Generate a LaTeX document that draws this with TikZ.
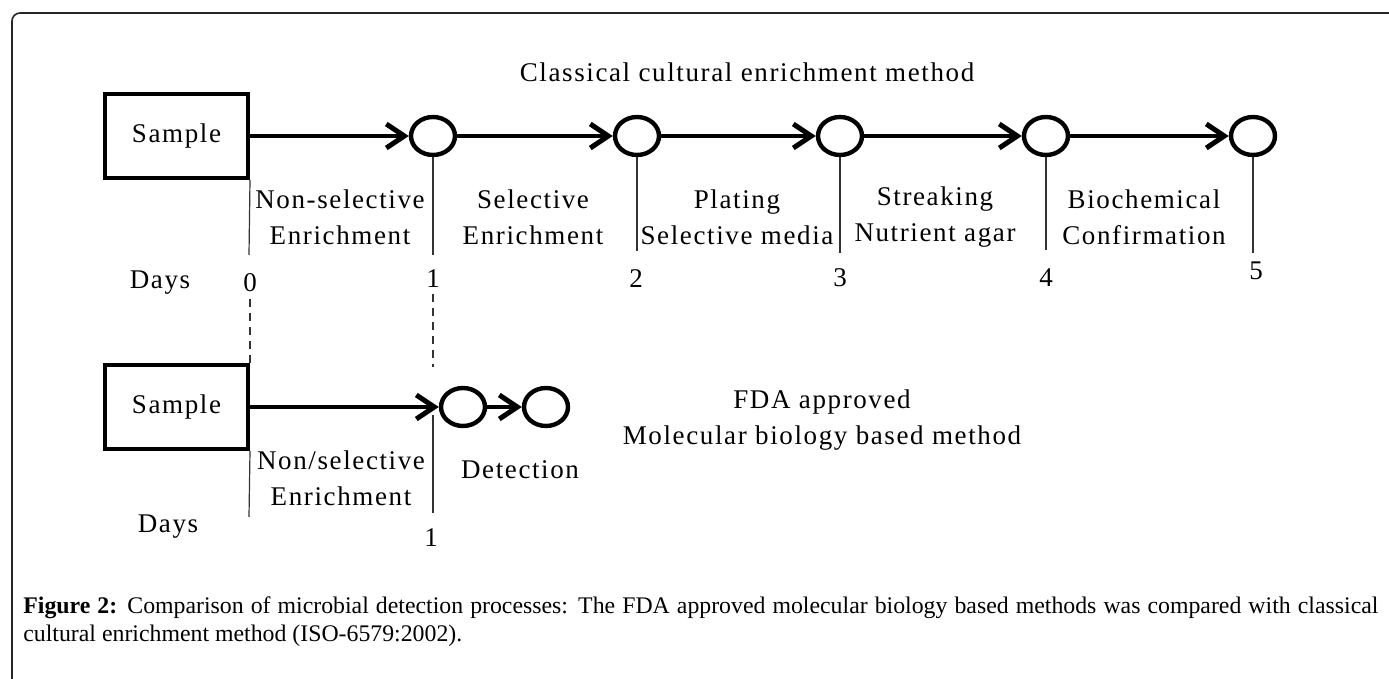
\documentclass[tikz,border=0pt]{standalone}
\usepackage{fontspec}
\setmainfont{Liberation Serif}
\newfontfamily\diagfont[LetterSpace=6]{Liberation Serif}
\usetikzlibrary{arrows.meta,shapes.geometric}
\begin{document}
\begin{tikzpicture}[x=0.5pt,y=-0.5pt,
  lbl/.style={font=\diagfont\fontsize{13.5}{18}\selectfont, align=center, inner sep=0pt},
  box/.style={draw, line width=2pt, minimum width=71.5pt, minimum height=42pt, inner sep=0pt, lbl},
  stage/.style={draw, ellipse, line width=2.2pt, minimum width=22pt, minimum height=19pt, inner sep=0pt},
  flow/.style={line width=2pt, -{Straight Barb[length=9pt,width=12pt,line width=2.5pt]}},
  tick/.style={line width=0.6pt, draw=black!80},
  guide/.style={line width=0.6pt, draw=black!80, dash pattern=on 4pt off 3pt},
  captext/.style={font=\fontsize{11.9}{14}\selectfont, inner sep=0pt, anchor=base west},
]
\useasboundingbox (0,0) rectangle (1389,679);
% frame
\draw[line width=0.8pt, draw=black!85, rounded corners=4pt] (12,679) -- (12,13) -- (1389,13);

% ---- classical method ----
\node[lbl] (title) at (747,72) {Classical cultural enrichment method};
\node[box] (s1) at (176.5,136) {Sample};
\node[stage] (c1) at (433,136) {};
\node[stage] (c2) at (637,136) {};
\node[stage] (c3) at (840,136) {};
\node[stage] (c4) at (1046,136) {};
\node[stage] (c5) at (1253,136) {};
\draw[flow] (s1) -- (c1);
\draw[flow] (c1) -- (c2);
\draw[flow] (c2) -- (c3);
\draw[flow] (c3) -- (c4);
\draw[flow] (c4) -- (c5);

\coordinate (t0) at (249,255);
\coordinate (t1) at (433,255);
\coordinate (t2) at (637,251);
\coordinate (t3) at (840,253);
\coordinate (t4) at (1046,250);
\coordinate (t5) at (1253,253);
\draw[tick] (s1.south east) -- (t0);
\draw[tick] (c1.south) -- (t1);
\draw[tick] (c2.south) -- (t2);
\draw[tick] (c3.south) -- (t3);
\draw[tick] (c4.south) -- (t4);
\draw[tick] (c5.south) -- (t5);

\node[lbl] (l1) at (340,217) {Non-selective\\Enrichment};
\node[lbl] (l2) at (533,217) {Selective\\Enrichment};
\node[lbl] (l3) at (737,217) {Plating\\Selective media};
\node[lbl] (l4) at (935,217) {Streaking\\Nutrient agar};
\node[lbl] (l5) at (1144,217) {Biochemical\\Confirmation};

\node[lbl] (days1) at (160,283) {Days};
\node[lbl] (n0) at (250,283) {0};
\node[lbl] (n1) at (433,279) {1};
\node[lbl] (n2) at (636,279) {2};
\node[lbl] (n3) at (840,278) {3};
\node[lbl] (n4) at (1046,278) {4};
\node[lbl] (n5) at (1256,271) {5};

% ---- molecular method ----
\node[box] (s2) at (176.5,407) {Sample};
\node[stage] (ca) at (463,407) {};
\node[stage] (cb) at (546,407) {};
\draw[flow] (s2) -- (ca);
\draw[flow] (ca) -- (cb);

\coordinate (g1) at (433,367);
\draw[guide] ([yshift=-3pt]n0.south) -- (s2.north east);
\draw[guide] ([yshift=-3pt]n1.south) -- (g1);

\coordinate (u0) at (249,517);
\coordinate (a0) at (433,415);
\coordinate (a1) at (433,513);
\draw[tick] (s2.south east) -- (u0);
\draw[tick] (a0) -- (a1);

\node[lbl] (m1) at (341,478) {Non/selective\\Enrichment};
\node[lbl] (m2) at (520,470) {Detection};
\node[lbl] (m3) at (822,420) {FDA approved\\Molecular biology based method};
\node[lbl] (days2) at (168,527) {Days};
\node[lbl] (k1) at (431,538) {1};

% ---- caption ----
\node[captext] (cap1) at (23,613) {\makebox[677.5pt][s]{\textbf{Figure 2:} Comparison of microbial detection processes: The FDA approved molecular biology based methods was compared with classical}};
\node[captext] (cap2) at (23,641) {cultural enrichment method (ISO-6579:2002).};
\end{tikzpicture}
\end{document}
